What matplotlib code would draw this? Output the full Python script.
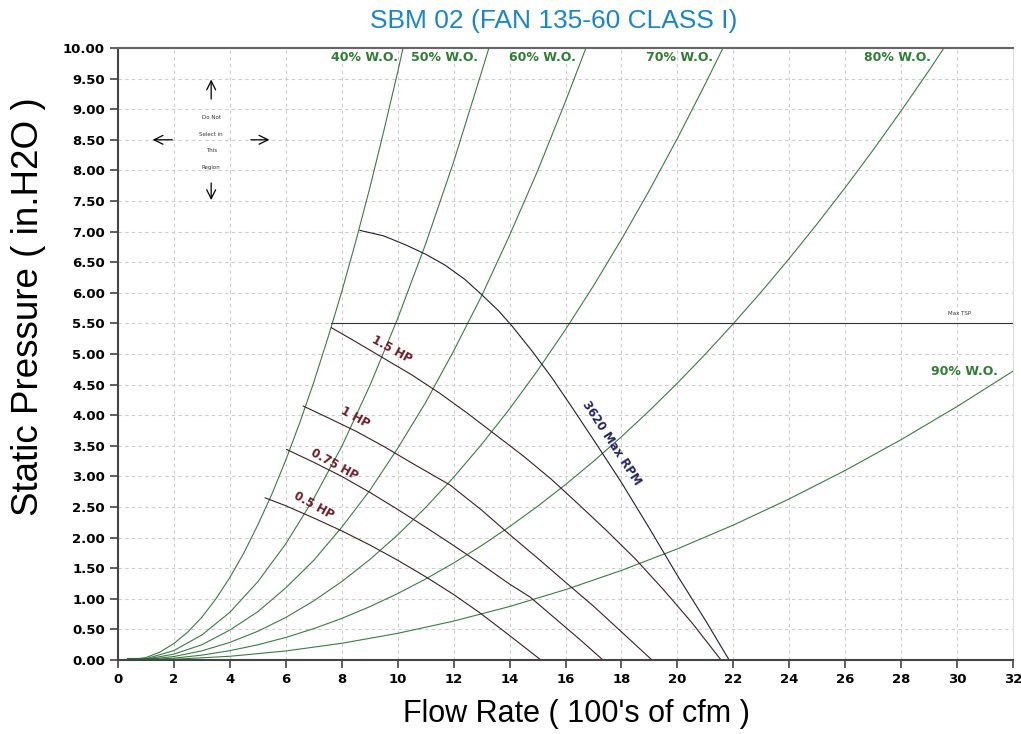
import numpy as np
import matplotlib.pyplot as plt

# system curves (% wide open)
wo_labels = ['40% W.O.', '50% W.O.', '60% W.O.', '70% W.O.', '80% W.O.', '90% W.O.']
wo40_x = [0, 0.4, 1, 1.5, 2, 2.5, 3, 3.5, 4, 4.5, 5, 5.5, 6, 6.5, 7, 7.5, 8, 8.5, 9,
          9.5, 10, 10.19]
wo40_y = [0, 0, 0.04, 0.13, 0.27, 0.46, 0.70, 1.00, 1.35, 1.75, 2.21, 2.71, 3.27, 3.88,
          4.54, 5.26, 6.02, 6.84, 7.71, 8.64, 9.61, 10.0]
wo50_x = [0, 0.4, 1, 2, 3, 4, 5, 6, 7, 8, 9, 10, 11, 12, 13, 13.26]
wo50_y = [0, 0, 0.02, 0.155, 0.41, 0.78, 1.28, 1.90, 2.64, 3.49, 4.48, 5.58, 6.80, 8.14,
          9.61, 10.0]
wo60_x = [0, 0.4, 1, 2, 3, 4, 5, 6, 7, 8, 9, 10, 11, 12, 13, 14, 15, 16, 16.73]
wo60_y = [0, 0, 0.014, 0.096, 0.25, 0.49, 0.79, 1.18, 1.63, 2.17, 2.77, 3.46, 4.21, 5.05,
          5.95, 6.94, 7.99, 9.13, 10.0]
wo70_x = [0, 0.4, 1, 2, 3, 4, 5, 6, 7, 8, 9, 10, 11, 12, 13, 14, 15, 16, 17, 18, 19, 20,
          21, 21.63]
wo70_y = [0, 0, 0.008, 0.057, 0.150, 0.288, 0.470, 0.696, 0.967, 1.282, 1.641, 2.045,
          2.493, 2.986, 3.523, 4.104, 4.730, 5.400, 6.115, 6.874, 7.677, 8.524, 9.417, 10.0]
wo80_x = [0, 0.4, 1, 2, 3, 4, 5, 6, 7, 8, 9, 10, 11, 12, 13, 14, 15, 16, 17, 18, 19, 20,
          21, 22, 23, 24, 25, 26, 27, 28, 29, 29.53]
wo80_y = [0, 0, 0.004, 0.030, 0.080, 0.153, 0.249, 0.369, 0.513, 0.680, 0.871, 1.086,
          1.324, 1.585, 1.870, 2.179, 2.511, 2.867, 3.246, 3.649, 4.075, 4.525, 4.999,
          5.496, 6.017, 6.561, 7.129, 7.720, 8.335, 8.974, 9.636, 10.0]
wo90_x = [0, 0.4, 2, 4, 6, 8, 10, 12, 14, 16, 18, 20, 22, 24, 26, 28, 30, 32]
wo90_y = [0, 0, 0.012, 0.061, 0.148, 0.273, 0.436, 0.636, 0.874, 1.150, 1.464, 1.816,
          2.205, 2.633, 3.098, 3.601, 4.142, 4.72]

# horsepower curves
hp_labels = ['0.5 HP', '0.75 HP', '1 HP', '1.5 HP']
hp05_x = [5.26, 6, 7, 8, 9, 10, 11, 12, 12.94, 14, 15.12]
hp05_y = [2.65, 2.52, 2.32, 2.11, 1.88, 1.63, 1.36, 1.07, 0.77, 0.40, 0]
hp075_x = [6.03, 7, 8, 9, 10, 11, 12, 12.94, 14, 14.73, 15.5, 16.5, 17.34]
hp075_y = [3.44, 3.23, 3.00, 2.74, 2.46, 2.17, 1.87, 1.58, 1.24, 1.03, 0.73, 0.34, 0]
hp1_x = [6.62, 7.5, 8.5, 9.5, 10.5, 11.87, 13, 14, 15.09, 16, 17, 18, 19.09]
hp1_y = [4.15, 3.96, 3.74, 3.49, 3.22, 2.86, 2.45, 2.05, 1.63, 1.27, 0.88, 0.46, 0]
hp15_x = [7.63, 8.5, 9.5, 10.5, 11.5, 12.5, 13.5, 14.5, 15.5, 16.5, 17.5, 18.5, 19.5,
          20.5, 21.56]
hp15_y = [5.43, 5.20, 4.93, 4.66, 4.36, 4.03, 3.68, 3.33, 2.95, 2.53, 2.10, 1.65, 1.15,
          0.62, 0]

# max rpm curve
rpm_x = [8.65, 9.5, 10.3, 11, 11.7, 12.4, 13, 13.6, 14.1, 14.8, 15.5, 16.2, 17, 18, 19,
         20, 21, 21.85]
rpm_y = [7.02, 6.93, 6.78, 6.63, 6.45, 6.22, 5.97, 5.71, 5.45, 5.05, 4.62, 4.15, 3.60,
         2.90, 2.15, 1.38, 0.65, 0]

max_tsp = 5.5
x_ticks = np.arange(0, 33, 2)
y_ticks = np.arange(0, 10.01, 0.5)

fig = plt.figure(figsize=(10.21, 7.34), dpi=100)
ax = fig.add_axes([0.1156, 0.1008, 0.8766, 0.8338])

green = '#3d7a45'
for xs, ys in [(wo40_x, wo40_y), (wo50_x, wo50_y), (wo60_x, wo60_y),
               (wo70_x, wo70_y), (wo80_x, wo80_y), (wo90_x, wo90_y)]:
    ax.plot(xs, ys, color=green, lw=0.8)
ax.plot([0.4, 1.4], [0, 0], color='#1f7a2a', lw=3)

hp_color = '#3b1f22'
for xs, ys in [(hp05_x, hp05_y), (hp075_x, hp075_y), (hp1_x, hp1_y), (hp15_x, hp15_y)]:
    ax.plot(xs, ys, color=hp_color, lw=0.8)

ax.plot(rpm_x, rpm_y, color='#1f1f33', lw=0.8)
ax.plot([7.6, 32], [max_tsp, max_tsp], color='#333333', lw=0.8)

# labels for system curves
lbl_font = dict(color='#2e7d32', fontweight='bold', fontsize=9, ha='center', va='center')
ax.text(8.83, 9.84, wo_labels[0], **lbl_font)
ax.text(11.69, 9.84, wo_labels[1], **lbl_font)
ax.text(15.16, 9.84, wo_labels[2], **lbl_font)
ax.text(20.09, 9.84, wo_labels[3], **lbl_font)
ax.text(27.85, 9.84, wo_labels[4], **lbl_font)
ax.text(30.28, 4.71, wo_labels[5], **lbl_font)

hp_font = dict(color='#6e1c28', fontweight='bold', fontsize=8.5, ha='center', va='center',
               rotation=-29)
ax.text(7.0, 2.52, hp_labels[0], **hp_font)
ax.text(7.73, 3.19, hp_labels[1], **hp_font)
ax.text(8.47, 3.96, hp_labels[2], **hp_font)
ax.text(9.8, 5.07, hp_labels[3], **hp_font)

ax.text(17.63, 3.55, '3620 Max RPM', color='#26265e', fontweight='bold', fontsize=8.5,
        ha='center', va='center', rotation=-57)
ax.text(30.1, 5.66, 'Max TSP', fontsize=4, ha='center', va='center', color='#333333')

# "do not select" region
for i, t in enumerate(['Do Not', 'Select in', 'This', 'Region']):
    ax.text(3.33, 8.86 - i * 0.27, t, fontsize=4, ha='center', va='center', color='#333333')
arrow = dict(arrowstyle='->', color='black', lw=0.9, mutation_scale=16)
ax.annotate('', xy=(3.33, 9.53), xytext=(3.33, 9.12), arrowprops=arrow)
ax.annotate('', xy=(3.33, 7.47), xytext=(3.33, 7.84), arrowprops=arrow)
ax.annotate('', xy=(1.14, 8.50), xytext=(2.04, 8.50), arrowprops=arrow)
ax.annotate('', xy=(5.51, 8.50), xytext=(4.65, 8.50), arrowprops=arrow)

ax.set_xlim(0, 32)
ax.set_ylim(0, 10)
ax.set_xticks(x_ticks)
ax.set_yticks(y_ticks)
ax.set_xticklabels([str(v) for v in x_ticks])
ax.set_yticklabels(['%.2f' % v for v in y_ticks])
for lab in ax.get_xticklabels() + ax.get_yticklabels():
    lab.set_fontweight('bold')
    lab.set_fontsize(9.5)
ax.tick_params(length=6, width=1.2, color='#444444', direction='out')
ax.grid(True, color='#cccccc', ls=(0, (3, 3)), lw=0.8)
ax.set_axisbelow(True)
for s in ['left', 'bottom']:
    ax.spines[s].set_color('#444444')
    ax.spines[s].set_linewidth(1.5)
ax.spines['top'].set_color('#666666')
ax.spines['top'].set_linewidth(1.5)
ax.spines['right'].set_color('#dddddd')

fig.text(0.028, 0.582, 'Static Pressure ( in.H2O )', rotation=90, fontsize=26.5,
         family='Liberation Sans', ha='center', va='center')
fig.text(0.565, 0.027, "Flow Rate ( 100's of cfm )", fontsize=22, family='Liberation Sans',
         ha='center', va='center')
fig.text(0.542, 0.972, 'SBM 02 (FAN 135-60 CLASS I)', fontsize=19, color='#1a86c8',
         family=['Liberation Sans Narrow', 'Liberation Sans'], ha='center', va='center')

fig.savefig('out.png', dpi=100)
